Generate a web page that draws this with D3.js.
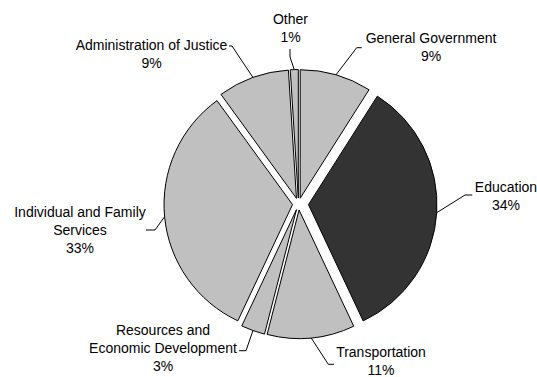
<!DOCTYPE html>
<html>
<head>
<meta charset="utf-8">
<script src="https://cdn.jsdelivr.net/npm/d3@7"></script>
<style>
  html, body { margin: 0; padding: 0; background: #fff; }
  svg { display: block; }
  text { font-family: "Liberation Sans", Arial, sans-serif; font-size: 14px; fill: #000; }
</style>
</head>
<body>
<svg id="chart" width="537" height="377"></svg>
<script>
// Spending share by function, clockwise from 12 o'clock
const categories = [
  "General Government",
  "Education",
  "Transportation",
  "Resources and Economic Development",
  "Individual and Family Services",
  "Administration of Justice",
  "Other"
];
const shares = [9, 34, 11, 3, 33, 9, 1];
const fills = ["#c0c0c0", "#333333", "#c0c0c0", "#c0c0c0", "#c0c0c0", "#c0c0c0", "#c0c0c0"];

// Label placement: text centre, first baseline, words per line, leader elbow and end
const labelLayout = [
  { x: 431, y: 43,  wrap: [2],    elbow: [356.7, 47.7], end: [361.7, 47.7] },
  { x: 506, y: 192, wrap: [1],    elbow: [465, 195],    end: [472.3, 195] },
  { x: 381, y: 357, wrap: [1],    elbow: [328.3, 364.3], end: [334, 364.3] },
  { x: 163, y: 335, wrap: [2, 2], elbow: [246, 350.7],  end: [239, 350.7] },
  { x: 80,  y: 217, wrap: [3, 1], elbow: [155, 230],    end: [146, 230] },
  { x: 151.5, y: 50, wrap: [3],   elbow: [232, 46],     end: [229, 46] },
  { x: 290.5, y: 24, wrap: [1],   elbow: [290, 57],     end: [290, 49] }
];

const cx = 298.5, cy = 204, radius = 128.5;
const explode = [6, 10, 6, 6, 6, 6, 6];
const lineH = 18;

const svg = d3.select("#chart");
const g = svg.append("g").attr("transform", `translate(${cx},${cy})`);

const pie = d3.pie().sort(null).value(d => d)
  .startAngle(0).endAngle(2 * Math.PI);
const arcs = pie(shares);
const arc = d3.arc().innerRadius(0).outerRadius(radius);

const mid = a => (a.startAngle + a.endAngle) / 2;
const polar = (ang, r) => [r * Math.sin(ang), -r * Math.cos(ang)];

// Exploded slices
g.selectAll("path.slice")
  .data(arcs)
  .join("path")
  .attr("class", "slice")
  .attr("d", arc)
  .attr("transform", (a, i) => {
    const [ox, oy] = polar(mid(a), explode[i]);
    return `translate(${ox},${oy})`;
  })
  .attr("fill", (a, i) => fills[i])
  .attr("stroke", "#000")
  .attr("stroke-width", 1)
  .attr("stroke-linejoin", "miter");

// Leader lines from each slice rim to its label
const leaders = svg.append("g");
arcs.forEach((a, i) => {
  const m = mid(a);
  const [px, py] = polar(m, radius + explode[i]);
  const L = labelLayout[i];
  leaders.append("polyline")
    .attr("points", [[cx + px, cy + py], L.elbow, L.end].map(p => p.join(",")).join(" "))
    .attr("fill", "none")
    .attr("stroke", "#000")
    .attr("stroke-width", 1);
});

// Category labels with percentages
const labels = svg.append("g");
categories.forEach((name, i) => {
  const L = labelLayout[i];
  const words = name.split(" ");
  const lines = [];
  let k = 0;
  L.wrap.forEach(n => { lines.push(words.slice(k, k + n).join(" ")); k += n; });
  if (k < words.length) lines.push(words.slice(k).join(" "));
  lines.push(shares[i] + "%");
  const t = labels.append("text").attr("text-anchor", "middle");
  lines.forEach((ln, j) => {
    t.append("tspan").attr("x", L.x).attr("y", L.y + j * lineH).text(ln);
  });
});
</script>
</body>
</html>
